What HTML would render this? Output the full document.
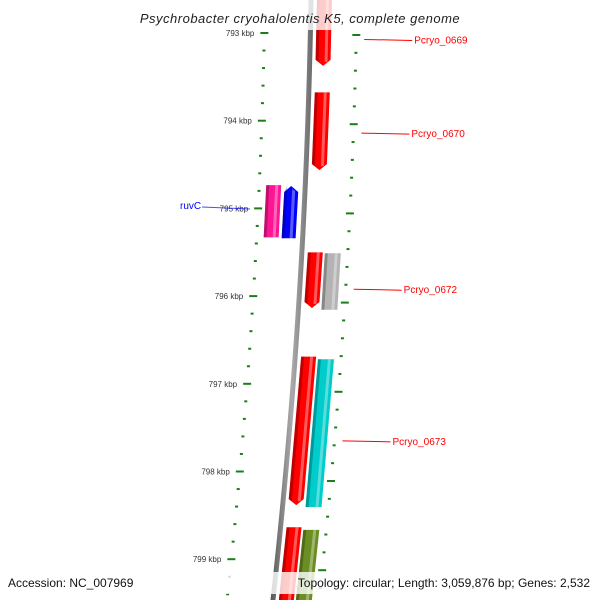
<!DOCTYPE html>
<html><head><meta charset="utf-8"><style>
html,body{margin:0;padding:0;background:#fff;}
svg{display:block;font-family:"Liberation Sans","DejaVu Sans",sans-serif;}
</style></head><body>
<svg id="map" width="600" height="600" viewBox="0 0 600 600">
<defs>
<linearGradient id="bb" x1="0" x2="1" y1="0" y2="0"><stop offset="0" stop-color="#555"/><stop offset="0.5" stop-color="#aaa"/><stop offset="1" stop-color="#666"/></linearGradient>
</defs>
<g id="layer"></g>
</svg>
<script>
const tickKbp=[793,794,795,796,797,798,799];
const geneNames=["Pcryo_0669","Pcryo_0670","ruvC","ruvC-partner","Pcryo_0672","gray-gene","Pcryo_0673","cyan-gene","red-gene-bottom","olive-gene"];
const geneStart=[792.5,793.66,794.71,794.72,795.47,795.48,796.65,796.68,798.58,798.61];
const geneEnd=[793.36,794.54,795.30,795.31,796.10,796.12,798.33,798.35,799.6,799.6];
const geneStrand=[-1,-1,0,1,-1,0,-1,0,0,0];
const geneColors=["#ff0000","#ff0000","#ff1493","#0000ff","#ff0000","#b4b4b4","#ff0000","#00cccc","#ff0000","#6b8e23"];
const geneTrack=[1,1,-2,-1,1,2,1,2,1,2];
const labelNames=["Pcryo_0669","Pcryo_0670","Pcryo_0672","Pcryo_0673"];
const labelKbp=[793.05,794.1,795.85,797.55];

const NS="http://www.w3.org/2000/svg";
const g=document.getElementById('layer');
function bx(y){return 311-0.0167*y-0.0000778*y*y;}
function yG(kb){return 34+(kb-793)*88.4;}
function yL(kb){return 33+(kb-793)*87.7;}
function yR(kb){return 35+(kb-793)*89.2;}
function mk(tag,attrs){const e=document.createElementNS(NS,tag);for(const k in attrs)e.setAttribute(k,attrs[k]);g.appendChild(e);return e;}

// backbone
let pts=[];for(let y=-5;y<=605;y+=10)pts.push([bx(y),y]);
let d="M"+pts.map(p=>(p[0]-2.5)+","+p[1]).join(" L")+" L"+pts.reverse().map(p=>(p[0]+2.5)+","+p[1]).join(" L")+"Z";
const bbe=mk('path',{d:d,fill:'url(#bb)'});



// ticks
for(let kb=792.8;kb<=800.01;kb+=0.2){
  const k=Math.round(kb*10)/10;const major=Math.abs(k-Math.round(k))<0.01;
  const w=major?8:3;
  const yl=yL(k),yr=yR(k);
  if(yl>-2&&yl<602){const t=mk('rect',{x:bx(yl)-46-w/2,y:yl-1,width:w,height:2,fill:'#1a7f1a'});
    }
  if(yr>-2&&yr<602){const t=mk('rect',{x:bx(yr)+46-w/2,y:yr-1,width:w,height:2,fill:'#1a7f1a'});
    }
}
tickKbp.forEach(kb=>{const y=yL(kb);
  const t=mk('text',{x:bx(y)-56,y:y+3,'font-size':8,'text-anchor':'end',fill:'#333'});t.textContent=kb+' kbp';
  });

// genes
const trackOff={1:[6,21],2:[23,39],'-1':[-21,-7],'-2':[-39,-24]};
geneStart.forEach((s,i)=>{
  const y0=yG(s),y1=yG(geneEnd[i]);const o=trackOff[geneTrack[i]];
  const l0=bx(y0)+o[0],r0=bx(y0)+o[1],l1=bx(y1)+o[0],r1=bx(y1)+o[1];
  let p;
  if(geneStrand[i]===-1){p=[[l0,y0],[r0,y0],[r1,y1-6],[(l1+r1)/2,y1],[l1,y1-6]];}
  else if(geneStrand[i]===1){p=[[l0,y0+6],[(l0+r0)/2,y0],[r0,y0+6],[r1,y1],[l1,y1]];}
  else p=[[l0,y0],[r0,y0],[r1,y1],[l1,y1]];
  const e=mk('polygon',{points:p.map(q=>q.join(',')).join(' '),fill:geneColors[i]});
  
  
  const sh=mk('polygon',{points:[[l0,y0+(geneStrand[i]===1?6:0)],[l0+3,y0],[l1+3,y1-(geneStrand[i]===-1?4:0)],[l1,y1-(geneStrand[i]===-1?6:0)]].map(q=>q.join(',')).join(' '),fill:'#000',opacity:0.25});
  
  const hl=mk('polygon',{points:[[r0-6,y0+(geneStrand[i]===1?3:0)],[r0-3,y0+(geneStrand[i]===1?5:0)],[r1-3,y1-(geneStrand[i]===-1?4:0)],[r1-6,y1-(geneStrand[i]===-1?4:0)]].map(q=>q.join(',')).join(' '),fill:'#fff',opacity:0.35});
  
});

// right labels
labelNames.forEach((n,i)=>{const y=yR(labelKbp[i]);const x0=bx(y)+54;
  const ln=mk('line',{x1:x0,y1:y,x2:x0+48,y2:y+1,stroke:'#ff0000','stroke-width':1});
  
  const t=mk('text',{x:x0+50,y:y+4,'font-size':10,fill:'#ff0000'});t.textContent=n;
  });
// ruvC label
const rl=mk('line',{x1:202,y1:207,x2:250,y2:209,stroke:'#0000ff','stroke-width':1,opacity:0.7});

const rt=mk('text',{x:180,y:209,'font-size':10,fill:'#0000ff'});rt.textContent='ruvC';


// title & footer
const tb=mk('rect',{x:0,y:0,width:600,height:30,fill:'#fff',opacity:0.8});

const tt=mk('text',{x:300,y:23,'font-size':13,'font-style':'italic','text-anchor':'middle',fill:'#222','letter-spacing':'0.5'});
tt.textContent='Psychrobacter cryohalolentis K5, complete genome';

const fb=mk('rect',{x:0,y:572,width:600,height:22,fill:'#fff',opacity:0.8});

const f1=mk('text',{x:8,y:587,'font-size':12,fill:'#111'});f1.textContent='Accession: NC_007969';

const f2=mk('text',{x:590,y:587,'font-size':12,'text-anchor':'end',fill:'#111'});f2.textContent='Topology: circular; Length: 3,059,876 bp; Genes: 2,532';

</script>
</body></html>
